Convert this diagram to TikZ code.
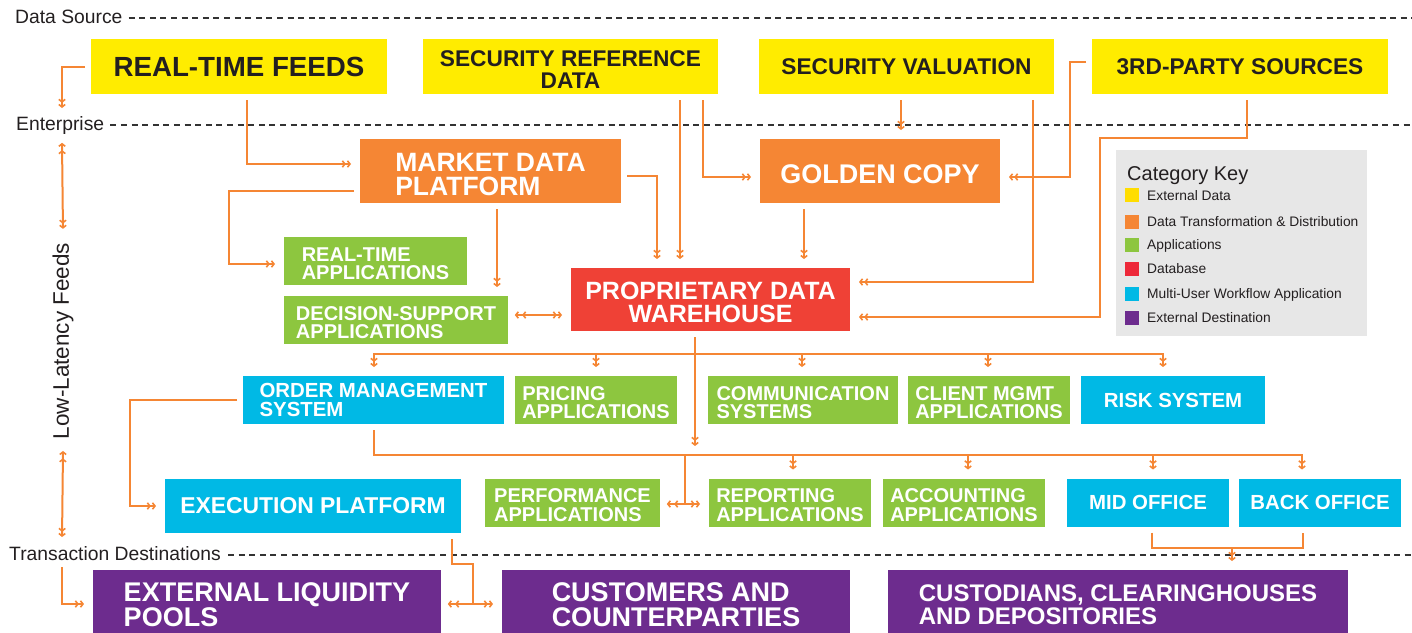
\documentclass[tikz,border=0pt]{standalone}
\usepackage{fontspec}
\setmainfont{Liberation Sans}
\usetikzlibrary{arrows.meta}

\definecolor{extyellow}{HTML}{FFEC00}
\definecolor{keyyellow}{HTML}{FFDD00}
\definecolor{transorange}{HTML}{F58634}
\definecolor{appgreen}{HTML}{8DC63F}
\definecolor{dbred}{HTML}{EF4136}
\definecolor{keyred}{HTML}{ED2839}
\definecolor{flowblue}{HTML}{00B9E5}
\definecolor{destpurple}{HTML}{6D2C8E}
\definecolor{keygrey}{HTML}{E7E7E7}
\definecolor{inkblack}{HTML}{231F20}
\definecolor{zonegrey}{HTML}{333333}

% pushes a box's text a little lower
\newcommand{\capgap}{\rule{0pt}{0.95em}}

\begin{document}
\begin{tikzpicture}[x=1pt, y=-1pt]
                \tikzstyle{box}=[inner sep=0pt, outer sep=6pt, align=left, text=white]
                \tikzstyle{ext}=[box, fill=extyellow, text=inkblack, minimum width=295pt, minimum height=55pt, align=center, font=\bfseries\fontsize{22.7}{22}\selectfont]
                \tikzstyle{trans}=[box, fill=transorange, minimum height=64pt, font=\bfseries\fontsize{26.5}{24.5}\selectfont]
                \tikzstyle{app}=[box, fill=appgreen, minimum height=48pt, font=\bfseries\fontsize{20}{18.5}\selectfont]
                \tikzstyle{db}=[box, fill=dbred, minimum height=63pt, align=center, font=\bfseries\fontsize{25}{23}\selectfont]
                \tikzstyle{work}=[box, fill=flowblue, minimum height=48pt, font=\bfseries\fontsize{20.4}{18.5}\selectfont]
                \tikzstyle{dest}=[box, fill=destpurple, minimum height=70pt, font=\bfseries\fontsize{27}{25}\selectfont]
                \tikzstyle{zone}=[anchor=base west, inner sep=0pt, text=inkblack, font=\fontsize{19.3}{20}\selectfont]
                \tikzstyle{zoneline}=[draw=zonegrey, line width=1.6pt, dash pattern=on 6pt off 4.6pt]
                \tikzstyle{link}=[draw=transorange, line width=2pt]
                \tikzstyle{flow}=[link, -{Straight Barb[length=2.5pt,width=6.4pt,line width=1.6pt,sep=0.8pt]Straight Barb[length=2.5pt,width=6.4pt,line width=1.6pt,sep=3pt]}]
                \tikzstyle{flow2}=[link, {Straight Barb[length=2.5pt,width=6.4pt,line width=1.6pt,sep=0.8pt]Straight Barb[length=2.5pt,width=6.4pt,line width=1.6pt,sep=3pt]}-{Straight Barb[length=2.5pt,width=6.4pt,line width=1.6pt,sep=0.8pt]Straight Barb[length=2.5pt,width=6.4pt,line width=1.6pt,sep=3pt]}]
                \tikzstyle{swatch}=[inner sep=0pt, minimum size=14pt]
                \tikzstyle{keyitem}=[anchor=base west, inner sep=0pt, text=inkblack, font=\fontsize{13.8}{14}\selectfont]

                \useasboundingbox (0,0) rectangle (1412,632);

                % Zones
                \node[zone] (dsrc) at (15,23) {Data Source};
                \node[zone] (ent) at (16,130) {Enterprise};
                \node[zone] (tdest) at (9,560) {Transaction Destinations};
                \node[zone, anchor=center, rotate=90, outer sep=11pt, font=\fontsize{22.5}{23}\selectfont] (ll) at (63,341) {Low-Latency Feeds};
                \draw[zoneline] (dsrc.east |- 0,18) ++(6,0) -- (1412,18);
                \draw[zoneline] (ent.east |- 0,125) ++(6,0) -- (1412,125);
                \draw[zoneline] (tdest.east |- 0,555) ++(7,0) -- (1412,555);

                \coordinate (entIn) at (62,111);
                \coordinate (llTop) at (62,142);
                \coordinate (llBot) at (62,540);
                \coordinate (tdOut) at (62,567);
                \coordinate (busIn) at (695,449);

                % Data sources
                \node[ext, minimum width=296pt, font=\bfseries\fontsize{27.7}{27}\selectfont] (rtf) at (239,66.5) {REAL-TIME FEEDS};
                \node[ext] (srd) at (570.5,66.5) {\capgap SECURITY REFERENCE\\DATA};
                \node[ext] (sv) at (906.5,66.5) {SECURITY VALUATION};
                \node[ext, minimum width=296pt] (tps) at (1240,66.5) {3RD-PARTY SOURCES};

                % Enterprise
                \node[trans, minimum width=261pt] (mdp) at (490.5,171) {\capgap MARKET DATA\\PLATFORM};
                \node[trans, minimum width=240pt, font=\bfseries\fontsize{27}{27}\selectfont] (gc) at (880,171) {\capgap GOLDEN COPY};
                \node[app, minimum width=183pt] (rta) at (375.5,261) {\capgap REAL-TIME\\APPLICATIONS};
                \node[app, minimum width=224pt] (dsa) at (396,320) {\capgap DECISION-SUPPORT\\APPLICATIONS};
                \node[db, minimum width=279pt] (pdw) at (710.5,299.5) {\capgap PROPRIETARY DATA\\WAREHOUSE};

                \node[work, minimum width=261pt] (oms) at (373.5,400) {ORDER MANAGEMENT\\SYSTEM};
                \node[app, minimum width=162pt] (pa) at (596,400) {\capgap PRICING\\APPLICATIONS};
                \node[app, minimum width=190pt] (cs) at (803,400) {\capgap COMMUNICATION\\SYSTEMS};
                \node[app, minimum width=162pt] (cma) at (989,400) {\capgap CLIENT MGMT\\APPLICATIONS};
                \node[work, minimum width=184pt] (rs) at (1173,400) {RISK SYSTEM};

                \node[work, minimum width=296pt, minimum height=54pt, font=\bfseries\fontsize{22.9}{22}\selectfont] (ep) at (313,506) {EXECUTION PLATFORM};
                \node[app, minimum width=175pt] (perf) at (572.5,502.5) {\capgap PERFORMANCE\\APPLICATIONS};
                \node[app, minimum width=162pt] (rep) at (790,502.5) {\capgap REPORTING\\APPLICATIONS};
                \node[app, minimum width=162pt] (acc) at (964,502.5) {\capgap ACCOUNTING\\APPLICATIONS};
                \node[work, minimum width=162pt] (mo) at (1148,502.5) {MID OFFICE};
                \node[work, minimum width=162pt] (bo) at (1320,502.5) {BACK OFFICE};

                % Destinations
                \node[dest, minimum width=348pt] (elp) at (267,605) {EXTERNAL LIQUIDITY\\POOLS};
                \node[dest, minimum width=348pt] (cc) at (676,605) {CUSTOMERS AND\\COUNTERPARTIES};
                \node[dest, minimum width=460pt, font=\bfseries\fontsize{24}{23}\selectfont] (chd) at (1118,605) {CUSTODIANS, CLEARINGHOUSES\\AND DEPOSITORIES};

                % Category key
                \node[fill=keygrey, inner sep=0pt, minimum width=251pt, minimum height=186pt] (key) at (1241.5,243) {};
                \node[keyitem, font=\fontsize{20}{20}\selectfont] (keyhead) at (1127,180) {Category Key};
                \foreach \y/\c/\t [count=\i] in {195/keyyellow/External Data, 221.5/transorange/Data Transformation \& Distribution, 244.5/appgreen/Applications, 268.5/keyred/Database, 293.5/flowblue/Multi-User Workflow Application, 317.5/destpurple/External Destination} {
                    \node[swatch, fill=\c] (sw\i) at (1132,\y) {};
                    \node[keyitem] (kt\i) at (1147,\y+5) {\t};
                }

                % Connect the boxes with flows
                \draw[flow] (rtf.west) -| (entIn);
                \draw[flow2] (llTop) -- (ll.east);
                \draw[flow2] (ll.west) -- (llBot);
                \draw[flow] (tdOut) |- (elp.west |- 0,604);

                \draw[flow] (rtf.south -| 247,0) |- (mdp.west |- 0,164);
                \draw[flow] (mdp.west |- 0,191) -- (229,191) |- (rta.west |- 0,264);
                \draw[flow] (mdp.south -| 497,0) -- (dsa.north -| 497,0);
                \draw[flow2] (dsa.east |- 0,315) -- (pdw.west |- 0,315);
                \draw[flow] (mdp.east |- 0,176) -| (pdw.north -| 657,0);
                \draw[flow] (srd.south -| 680,0) -- (pdw.north -| 680,0);
                \draw[flow] (srd.south -| 703,0) |- (gc.west |- 0,177);
                \draw[flow] (sv.south -| 901,0) -- (gc.north -| 901,0);
                \draw[flow] (sv.south -| 1033,0) |- (pdw.east |- 0,282);
                \draw[flow] (tps.west |- 0,62) -| (1070,177) -- (gc.east |- 0,177);
                \draw[flow] (tps.south -| 1247,0) |- (1100,138) |- (pdw.east |- 0,317);
                \draw[flow] (gc.south -| 804,0) -- (pdw.north -| 804,0);

                % Warehouse out to the applications
                \foreach \x/\n in {374/oms, 596/pa, 802/cs, 988/cma, 1163/rs}
                    \draw[flow] (pdw.south -| 695,0) |- (\x,354) -- (\n.north -| \x,0);
                \draw[flow] (pdw.south -| 695,0) -- (busIn);

                \foreach \x/\n in {793/rep, 968/acc, 1153/mo, 1302/bo}
                    \draw[flow] (oms.south -| 374,0) |- (\x,455) -- (\n.north -| \x,0);
                \draw[link] (oms.south -| 374,0) |- (685,455) -- (685,504);
                \draw[flow2] (perf.east |- 0,504) -- (rep.west |- 0,504);

                \draw[flow] (oms.west) -- (130,400) |- (ep.west);
                \draw[link] (ep.south -| 452,0) |- (473,564) -- (473,604);
                \draw[flow2] (elp.east |- 0,604) -- (cc.west |- 0,604);

                \draw[link] (mo.south -| 1152,0) |- (1303,548) -- (bo.south -| 1303,0);
                \draw[flow] (1232,548) -- (chd.north -| 1232,0);

            \end{tikzpicture}
\end{document}
